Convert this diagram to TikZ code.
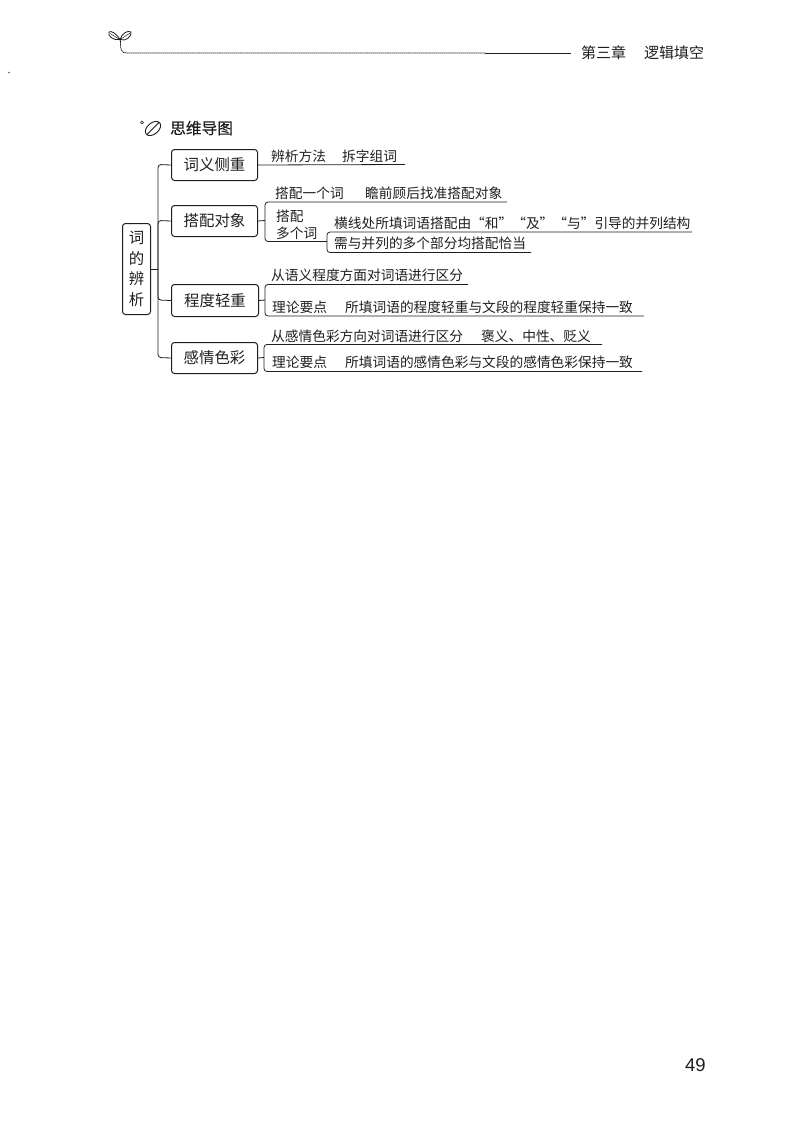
\documentclass[tikz,border=0pt]{standalone}
\usepackage{fontspec}
\setmainfont{Liberation Sans}
\newfontfamily\cjk{Noto Sans CJK SC}
\newfontfamily\cjkheavy[FakeBold=0.4]{Noto Sans CJK SC}
\definecolor{ink}{HTML}{1E1E1E}
\newcommand{\lowered}[1]{\raisebox{-1pt}{#1}}
\tikzset{
  x=1pt,y=-1pt,
  wire/.style={draw=ink,line width=0.8pt},
  edge/.style={wire,rounded corners=3pt},
  topic/.style={draw=ink,line width=1pt,rounded corners=3pt,font=\cjk\fontsize{15.4}{18}\selectfont,text=ink,inner sep=0pt,anchor=north west},
  txt/.style={anchor=base west,inner sep=0pt,text=ink,font=\cjk\fontsize{13.7}{16}\selectfont},
  head/.style={anchor=base west,inner sep=0pt,text=ink,font=\cjk\fontsize{15}{18}\selectfont},
}
\begin{document}
\begin{tikzpicture}
\useasboundingbox (0,0) rectangle (800,1132);
% header
\coordinate (hs) at (120.5,42);
\coordinate (hm) at (485,53);
\coordinate (he) at (571,53);
\draw[wire,line width=0.7pt,dash pattern=on 1.6pt off 0.5pt] (hs) .. controls (120.5,50) and (121,53) .. (127,53) -- (hm);
\draw[wire] (hm) -- (he);
\draw[ink,line width=0.8pt] (120,39.5) .. controls (116,33) and (111,30.5) .. (109,32) .. controls (107,36) and (114,41) .. (120,39.5)
  .. controls (122,33) and (128,30) .. (131,32) .. controls (132,36) and (126,42) .. (120,39.5) -- (hs);
\draw[ink,line width=0.5pt] (110,33.5) -- (119,39);
\draw[ink,line width=0.5pt] (130,33) -- (121,39);
\node[head] (chap) at (581,59) {第三章};
\node[head] (chapname) at (644,59) {逻辑填空};
\filldraw[ink!70] (9,72.5) circle (0.5);
% section heading
\draw[ink,line width=0.6pt] (142,122.5) circle (1.5);
\draw[ink,line width=0.9pt,rotate around={40:(153,128.5)}] (153,128.5) ellipse (8.8 and 5.6);
\draw[ink,line width=0.9pt] (147,134.5) -- (159,122.5);
\node[head,font=\cjkheavy\fontsize{15.7}{18}\selectfont] (title) at (170,134) {思维导图};
% root and topics
\node[topic,minimum width=28pt,minimum height=91pt,align=center,font=\cjk\fontsize{15.4}{20.6}\selectfont] (root) at (122,223) {\lowered{词}\\\lowered{的}\\\lowered{辨}\\\lowered{析}};
\node[topic,minimum width=86pt,minimum height=31pt] (t1) at (171,149) {\lowered{词义侧重}};
\node[topic,minimum width=86pt,minimum height=31pt] (t2) at (171,205) {\lowered{搭配对象}};
\node[topic,minimum width=87pt,minimum height=32pt] (t3) at (171,284) {\lowered{程度轻重}};
\node[topic,minimum width=86pt,minimum height=31pt] (t4) at (171,342) {\lowered{感情色彩}};
% trunk
\coordinate (tr) at (158,269);
\draw[wire] (root.east |- tr) -- (tr);
\draw[edge] (t1.west) -- (158,164.5) -- (tr);
\draw[edge] (t2.west) -- (158,220.5) -- (tr);
\draw[edge] (t3.west) -- (158,300) -- (tr);
\draw[edge] (t4.west) -- (158,357.5) -- (tr);
% branch 1
\coordinate (e1) at (405,164.5);
\draw[wire] (t1.east) -- (e1);
\node[txt] (a1) at (271,161.5) {辨析方法};
\node[txt] (a2) at (342,161.5) {拆字组词};
% branch 2
\coordinate (b2) at (265,220.5);
\coordinate (b2t) at (507,202);
\coordinate (b2b) at (327,241.5);
\draw[wire] (t2.east) -- (b2);
\draw[edge] (b2t) -- (265,202) -- (265,241.5) -- (b2b);
\node[txt] (b1) at (275,198) {搭配一个词};
\node[txt] (b3) at (365,198) {瞻前顾后找准搭配对象};
\node[txt] (b4) at (276,221.5) {搭配};
\node[txt] (b5) at (276,238) {多个词};
\coordinate (c1) at (692,232);
\coordinate (c2) at (531,252.5);
\draw[edge] (c1) -- (327,232) -- (327,252.5) -- (c2);
\node[txt] (c3) at (334,228) {横线处所填词语搭配由“和”“及”“与”引导的并列结构};
\node[txt] (c4) at (334,248) {需与并列的多个部分均搭配恰当};
% branch 3
\coordinate (b3m) at (265,300);
\coordinate (d1) at (468,284.5);
\coordinate (d2) at (644,316);
\draw[wire] (t3.east) -- (b3m);
\draw[edge] (d1) -- (265,284.5) -- (265,316) -- (d2);
\node[txt] (d3) at (271,280.5) {从语义程度方面对词语进行区分};
\node[txt] (d4) at (272,312.5) {理论要点};
\node[txt] (d5) at (345,312.5) {所填词语的程度轻重与文段的程度轻重保持一致};
% branch 4
\coordinate (b4m) at (264,357.5);
\coordinate (f1) at (602,344.5);
\coordinate (f2) at (642,371.5);
\draw[wire] (t4.east) -- (b4m);
\draw[edge] (f1) -- (264,344.5) -- (264,371.5) -- (f2);
\node[txt] (f3) at (271,341) {从感情色彩方向对词语进行区分};
\node[txt] (f4) at (481,341) {褒义、中性、贬义};
\node[txt] (f5) at (272,367.5) {理论要点};
\node[txt] (f6) at (345,367.5) {所填词语的感情色彩与文段的感情色彩保持一致};
% page number
\node[anchor=base west,inner sep=0pt,text=ink,font=\fontsize{18.5}{20}\selectfont] (pg) at (685,1071) {49};
\end{tikzpicture}
\end{document}
